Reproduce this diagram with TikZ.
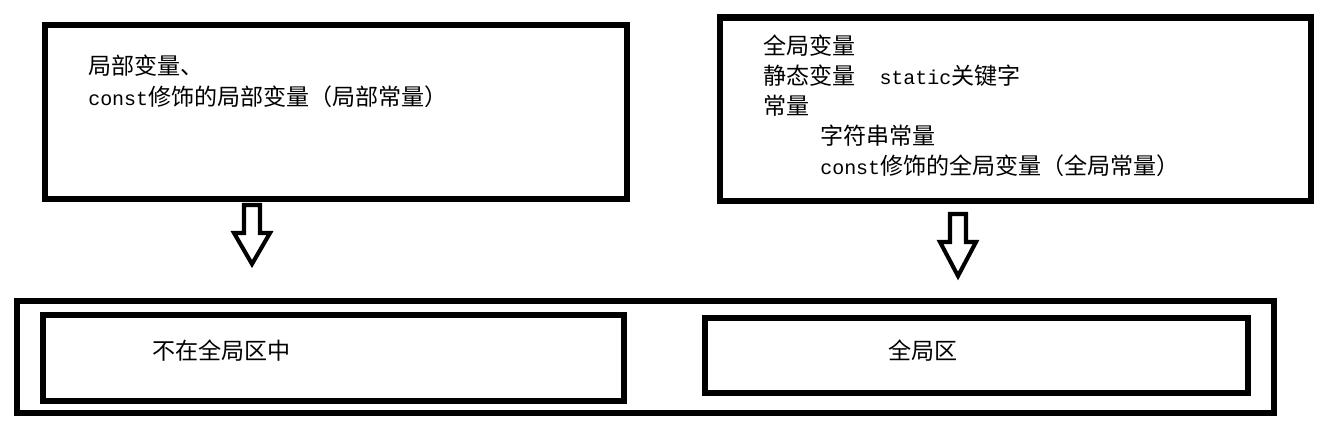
\documentclass[tikz,border=0pt]{standalone}
\usepackage{fontspec}
\newfontfamily\cjk{Noto Sans CJK SC}
\newfontfamily\mono{Liberation Mono}
\newcommand\codigo[1]{{\mono\fontsize{14.2}{20}\selectfont #1}}
\begin{document}
\begin{tikzpicture}[x=0.025cm, y=-0.025cm,
		caja/.style={draw, line width=4.3pt, inner sep=0pt, anchor=north west},
		texto/.style={anchor=base west, inner sep=0pt, font=\cjk\fontsize{16.4}{20}\selectfont},
		flecha/.style={draw, line width=2.9pt}]
	\useasboundingbox (0,0) rectangle (1333,426);
	% Cajas de arriba
		% Variables locales
		\node[caja, minimum width=14.55cm, minimum height=4.35cm] (local) at (42,22) {};
		\node[texto] (l1) at (88,75) {局部变量、};
		\node[texto] (l2) at (88,106) {\codigo{const}修饰的局部变量（局部常量）};
		
		% Variables globales
		\node[caja, minimum width=14.775cm, minimum height=4.575cm] (global) at (717,14.5) {};
		\node[texto] (g1) at (763,54.5) {全局变量};
		\node[texto] (g2) at (763,84.5) {静态变量\codigo{\ \ static}关键字};
		\node[texto] (g3) at (763,114.5) {常量};
		\node[texto] (g4) at (820,144.5) {字符串常量};
		\node[texto] (g5) at (820,174.5) {\codigo{const}修饰的全局变量（全局常量）};
	
	% Flechas
		\coordinate (fi) at (252,205);
		\draw[flecha] (fi) -- ++(8,0) -- ++(0,28) -- ++(10,0) -- ++(-18,31) -- ++(-18,-31) -- ++(10,0) -- ++(0,-28) -- cycle;
		\coordinate (fd) at (958,214);
		\draw[flecha] (fd) -- ++(8,0) -- ++(0,28) -- ++(10,0) -- ++(-18,34) -- ++(-18,-34) -- ++(10,0) -- ++(0,-28) -- cycle;
	
	% Memoria
		\node[caja, minimum width=31.41cm, minimum height=2.79cm] (memoria) at (14,298) {};
		% Zonas
		\node[caja, minimum width=14.525cm, minimum height=2.16cm] (noglobal) at (39.5,311.5) {};
		\node[texto] (b1) at (152,359) {不在全局区中};
		\node[caja, minimum width=13.575cm, minimum height=1.89cm] (zonaglobal) at (701.5,314.5) {};
		\node[texto] (b2) at (888,359) {全局区};
\end{tikzpicture}
\end{document}
